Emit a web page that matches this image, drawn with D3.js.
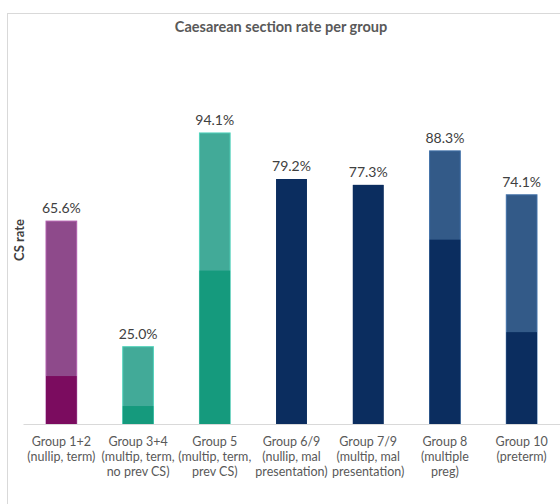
<!DOCTYPE html>
<html><head><meta charset="utf-8">
<script src="https://cdn.jsdelivr.net/npm/d3@7"></script>
<style>body{margin:0;background:#fff;} svg{display:block;font-family:Lato,"Open Sans",sans-serif;}</style>
</head><body><div id="chart"></div>
<script>
const categories = ["Group 1+2\n(nullip, term)", "Group 3+4\n(multip, term,\nno prev CS)", "Group 5\n(multip, term,\nprev CS)", "Group 6/9\n(nullip, mal\npresentation)", "Group 7/9\n(multip, mal\npresentation)", "Group 8\n(multiple\npreg)", "Group 10\n(preterm)"];
const csRate = [65.6, 25.0, 94.1, 79.2, 77.3, 88.3, 74.1];
const innerPart = [15.5, 5.8, 49.6, 79.2, 77.3, 59.6, 29.7];
const lightColors = ["#8e4a8b", "#42aa98", "#42aa98", "#0b2d5f", "#0b2d5f", "#335a88", "#335a88"];
const darkColors = ["#7b0c5f", "#159a7d", "#159a7d", "#0b2d5f", "#0b2d5f", "#0b2d5f", "#0b2d5f"];

const W = 560, H = 504;
const svg = d3.select("#chart").append("svg").attr("width", W).attr("height", H);

// frame
svg.append("rect").attr("x", 7.5).attr("y", 13.5).attr("width", 600).attr("height", 600)
  .attr("fill", "none").attr("stroke", "#d9d9d9");

svg.append("text").attr("x", 281).attr("y", 32).attr("text-anchor", "middle")
  .attr("font-size", 14.5).attr("font-weight", "bold").attr("fill", "#595959")
  .text("Caesarean section rate per group");

svg.append("text").attr("transform", "translate(24,240) rotate(-90)").attr("text-anchor", "middle")
  .attr("font-size", 13).attr("font-weight", "bold").attr("fill", "#404040").text("CS rate");

const x = d3.scaleBand().domain(categories).range([23, 560]).paddingInner(0.6).paddingOuter(0.3);
const y = d3.scaleLinear().domain([0, 100]).range([424, 424 - 309.3]);

const g = svg.append("g");
g.selectAll("rect.light").data(categories).join("rect").attr("class", "light")
  .attr("x", d => x(d)).attr("width", x.bandwidth())
  .attr("y", (d, i) => y(csRate[i])).attr("height", (d, i) => y(0) - y(csRate[i]))
  .attr("fill", (d, i) => lightColors[i])
  .attr("stroke", (d, i) => i === 3 || i === 4 ? "none" : d3.color(lightColors[i]).brighter(0.6))
  .attr("stroke-width", 1);
g.selectAll("rect.dark").data(categories).join("rect").attr("class", "dark")
  .attr("x", d => x(d)).attr("width", x.bandwidth())
  .attr("y", (d, i) => y(innerPart[i])).attr("height", (d, i) => y(0) - y(innerPart[i]))
  .attr("fill", (d, i) => darkColors[i]);

g.selectAll("text.val").data(categories).join("text").attr("class", "val")
  .attr("x", d => x(d) + x.bandwidth() / 2).attr("y", (d, i) => y(csRate[i]) - 8)
  .attr("text-anchor", "middle").attr("font-size", 14).attr("fill", "#404040")
  .text((d, i) => csRate[i].toFixed(1) + "%");

const axis = d3.axisBottom(x).tickSize(0).tickPadding(0);
const ax = svg.append("g").attr("transform", "translate(0,424)").call(axis);
ax.select(".domain").attr("stroke", "#d9d9d9");
ax.selectAll(".tick text").remove();
ax.selectAll(".tick").each(function(d) {
  const t = d3.select(this).append("text").attr("fill", "#595959").attr("font-size", 12.5)
    .attr("text-anchor", "middle").attr("font-family", "Lato, 'Open Sans', sans-serif");
  d.split("\n").forEach((line, k) => {
    t.append("tspan").attr("x", 0).attr("y", 22 + k * 15).text(line);
  });
});
</script></body></html>
